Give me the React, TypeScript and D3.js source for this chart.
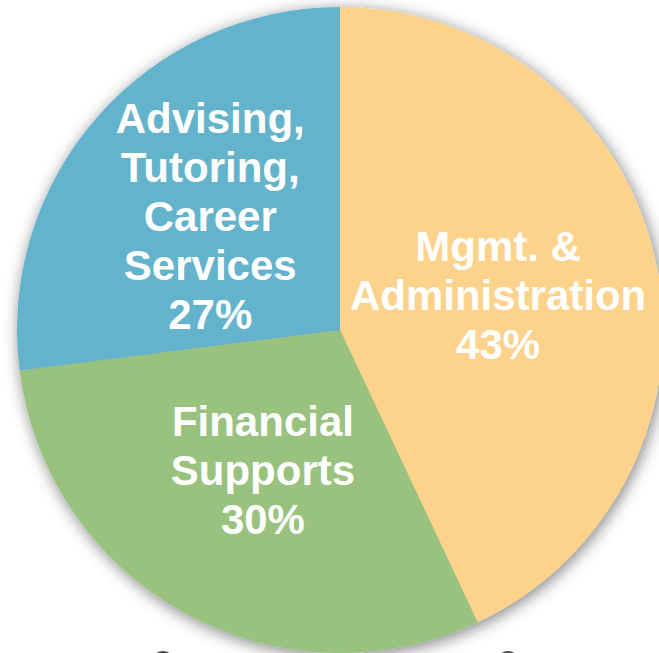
import React from "react";
import * as d3 from "d3";

const categories = ["Mgmt. & Administration", "Financial Supports", "Advising, Tutoring, Career Services"];
const values = [43, 30, 27];
const labelLines = [
  ["Mgmt. &", "Administration", "43%"],
  ["Financial", "Supports", "30%"],
  ["Advising,", "Tutoring,", "Career", "Services", "27%"],
];
const colors = ["#FDD28A", "#98C27E", "#63B3CC"];

const W = 659;
const H = 653;
const CX = 340;
const CY = 330;
const R = 323;
const labelRadius = [162, 160, 173];
const FONT = 42;
const LINE = 49;

export default function App() {
  const pie = d3.pie<number>().sort(null).value((d) => d);
  const arcs = pie(values);
  const arcGen = d3.arc<d3.PieArcDatum<number>>().innerRadius(0).outerRadius(R);

  return (
    <svg
      width={W}
      height={H}
      style={{ position: "fixed", left: 0, top: 0, background: "#fff" }}
    >
      <defs>
        <filter id="sh" x="-20%" y="-20%" width="140%" height="140%">
          <feGaussianBlur in="SourceAlpha" stdDeviation="8" />
          <feOffset dx="2" dy="3" result="b" />
          <feComponentTransfer>
            <feFuncA type="linear" slope="0.5" />
          </feComponentTransfer>
          <feMerge>
            <feMergeNode />
            <feMergeNode in="SourceGraphic" />
          </feMerge>
        </filter>
      </defs>
      <circle cx={163} cy={662.5} r={11.5} fill="#4a4a4a" />
      <circle cx={508} cy={662.5} r={11.5} fill="#4a4a4a" />
      <g transform={`translate(${CX},${CY})`}>
        <g filter="url(#sh)">
          {arcs.map((a, i) => (
            <path key={categories[i]} d={arcGen(a) || ""} fill={colors[i]} />
          ))}
        </g>
        {arcs.map((a, i) => {
          const mid = (a.startAngle + a.endAngle) / 2;
          const lr = labelRadius[i];
          const x = Math.sin(mid) * lr;
          const y = -Math.cos(mid) * lr;
          const lines = labelLines[i];
          const n = lines.length;
          const blockH = (n - 1) * LINE + FONT * 0.72;
          const firstBaseline = y - blockH / 2 + FONT * 0.72;
          return (
            <text
              key={"l" + i}
              textAnchor="middle"
              fill="#fff"
              fontFamily="'Liberation Sans', Arial, sans-serif"
              fontWeight="bold"
              fontSize={FONT}
            >
              {lines.map((t, j) => (
                <tspan key={j} x={x} y={firstBaseline + j * LINE}>
                  {t}
                </tspan>
              ))}
            </text>
          );
        })}
      </g>
    </svg>
  );
}
